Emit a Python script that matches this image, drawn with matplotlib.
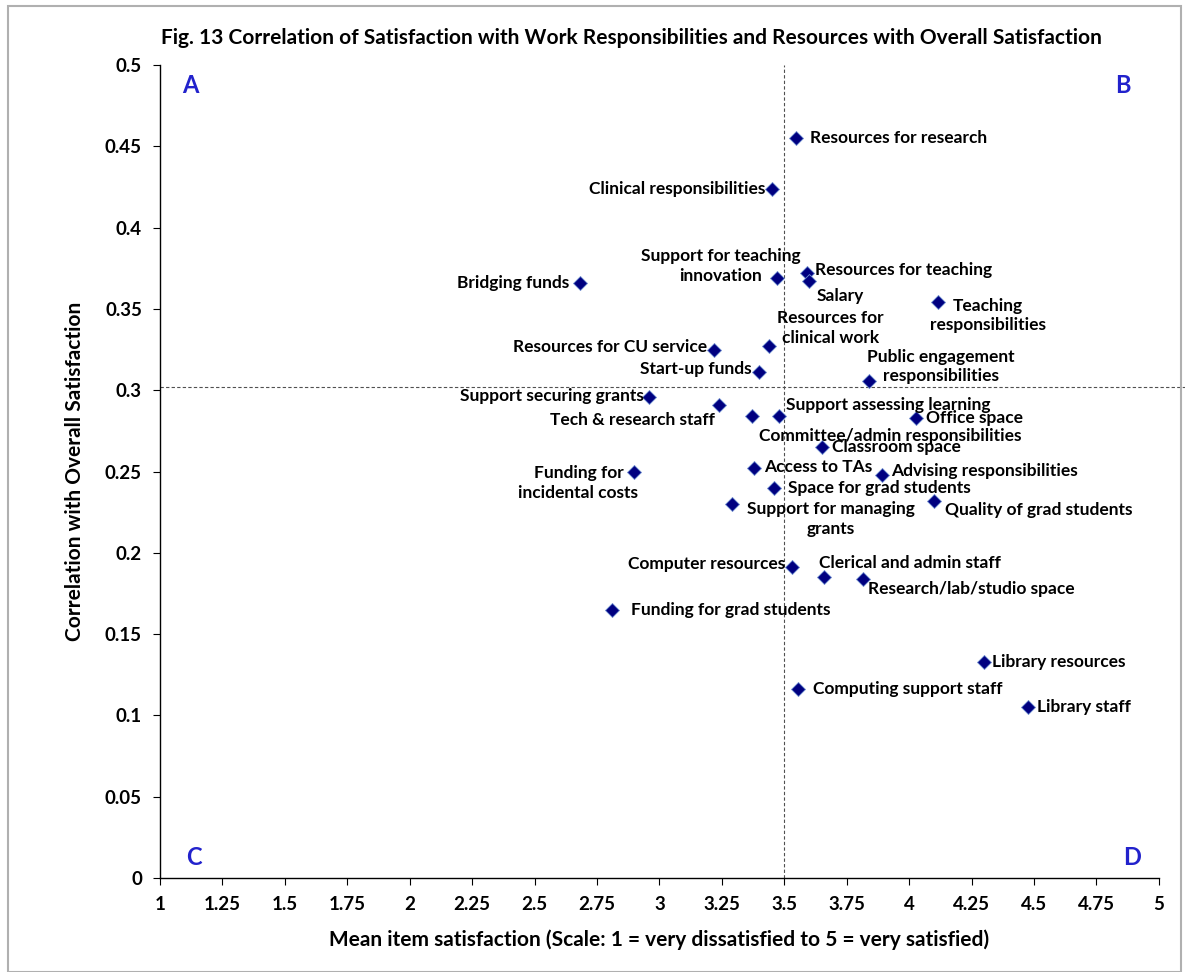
import numpy as np
import matplotlib.pyplot as plt
from matplotlib.patches import Rectangle

plt.rcParams['font.family'] = ['Lato', 'DejaVu Sans']
plt.rcParams['font.weight'] = 'bold'

# item names, mean satisfaction, correlation with overall satisfaction
items = ["Resources for research", "Clinical responsibilities",
         "Support for teaching\ninnovation", "Resources for teaching", "Salary",
         "Bridging funds", "Teaching\nresponsibilities", "Resources for CU service",
         "Resources for\nclinical work", "Start-up funds",
         "Public engagement\nresponsibilities", "Support securing grants",
         "Tech & research staff", "Support assessing learning",
         "Committee/admin responsibilities", "Office space", "Classroom space",
         "Funding for\nincidental costs", "Access to TAs", "Advising responsibilities",
         "Space for grad students", "Support for managing\ngrants",
         "Quality of grad students", "Computer resources", "Clerical and admin staff",
         "Research/lab/studio space", "Funding for grad students",
         "Library resources", "Computing support staff", "Library staff"]
mean_sat = [3.546, 3.45, 3.47, 3.59, 3.60,
            2.68, 4.115, 3.22, 3.44, 3.40,
            3.84, 2.96, 3.24, 3.48, 3.37,
            4.027, 3.65, 2.90, 3.38, 3.89,
            3.46, 3.29, 4.10, 3.53, 3.66,
            3.815, 2.81, 4.30, 3.555, 4.475]
corr = [0.455, 0.424, 0.369, 0.372, 0.367,
        0.366, 0.354, 0.325, 0.327, 0.311,
        0.306, 0.296, 0.291, 0.284, 0.284,
        0.283, 0.265, 0.250, 0.252, 0.248,
        0.240, 0.230, 0.232, 0.191, 0.185,
        0.184, 0.165, 0.133, 0.116, 0.105]
x_mid = 3.5
y_mid = 0.302
quadrants = ["A", "B", "C", "D"]

# label placement: offset in pixels (dx, dy) and horizontal alignment
lab_pos = [(14, 0, 'left'), (-6, 0, 'right'), (-56, 12, 'center'), (8, 3, 'left'),
           (7, -15, 'left'), (-10, 0, 'right'), (50, -13, 'center'), (-7, 3, 'right'),
           (61, 18, 'center'), (-8, 3, 'right'), (72, 14, 'center'), (-6, 1, 'right'),
           (-5, -15, 'right'), (7, 11, 'left'), (138, -20, 'center'), (10, 0, 'left'),
           (10, 0, 'left'), (-56, -11, 'center'), (10, 1, 'left'), (9, 4, 'left'),
           (14, 0, 'left'), (99, -15, 'center'), (11, -9, 'left'), (-7, 3, 'right'),
           (-5, 14, 'left'), (5, -10, 'left'), (19, 0, 'left'), (8, 0, 'left'),
           (15, 0, 'left'), (9, 0, 'left')]

fig = plt.figure(figsize=(11.85, 9.72), dpi=100)
fig.patches.append(Rectangle((0.007, 0.0), 0.99, 0.994, transform=fig.transFigure,
                             fill=False, edgecolor='#b0b0b0', linewidth=1.5))
ax = fig.add_axes([0.135, 0.0967, 0.843, 0.8363])

ax.axvline(x_mid, color='#505050', linestyle=(0, (3, 2)), linewidth=0.8, zorder=1)
ax.axhline(y_mid, xmin=0, xmax=1.03, color='#505050', linestyle=(0, (3, 2)),
           linewidth=0.8, zorder=1, clip_on=False)

ax.plot(mean_sat, corr, 'D', color='#000080', markeredgecolor='#6f8fd0',
        markeredgewidth=0.6, markersize=7, zorder=3, linestyle='none')

for name, xv, yv, (dx, dy, ha) in zip(items, mean_sat, corr, lab_pos):
    ax.annotate(name, (xv, yv), xytext=(dx, dy), textcoords='offset pixels',
                ha=ha, va='center', multialignment='center', fontsize=12.5,
                fontweight='bold', linespacing=1.3, zorder=4)

for q, (qx, qy) in zip(quadrants, [(0.03, 0.975), (0.964, 0.975), (0.034, 0.025), (0.973, 0.025)]):
    ax.text(qx, qy, q, transform=ax.transAxes, color='#2222cc', fontsize=17,
            fontweight='bold', ha='center', va='center')

ax.set_xlim(1, 5)
ax.set_ylim(0, 0.5)
ax.set_xticks(np.arange(1, 5.01, 0.25))
ax.set_xticklabels(['1', '1.25', '1.5', '1.75', '2', '2.25', '2.5', '2.75', '3',
                    '3.25', '3.5', '3.75', '4', '4.25', '4.5', '4.75', '5'])
ax.set_yticks(np.arange(0, 0.501, 0.05))
ax.set_yticklabels(['0', '0.05', '0.1', '0.15', '0.2', '0.25', '0.3', '0.35',
                    '0.4', '0.45', '0.5'])
ax.tick_params(labelsize=13.5, length=5, width=0.8, pad=8)
for t in ax.get_xticklabels() + ax.get_yticklabels():
    t.set_fontweight('bold')
ax.spines['top'].set_visible(False)
ax.spines['right'].set_visible(False)
ax.spines['left'].set_linewidth(1)
ax.spines['bottom'].set_linewidth(1)

ax.set_xlabel("Mean item satisfaction (Scale: 1 = very dissatisfied to 5 = very satisfied)",
              fontsize=15, fontweight='bold', labelpad=12)
ax.set_ylabel("Correlation with Overall Satisfaction", fontsize=15,
              fontweight='bold', labelpad=14)
fig.text(0.533, 0.961, "Fig. 13 Correlation of Satisfaction with Work Responsibilities and Resources with Overall Satisfaction",
         ha='center', va='center', fontsize=15, fontweight='bold')

fig.savefig('out.png', dpi=100)
